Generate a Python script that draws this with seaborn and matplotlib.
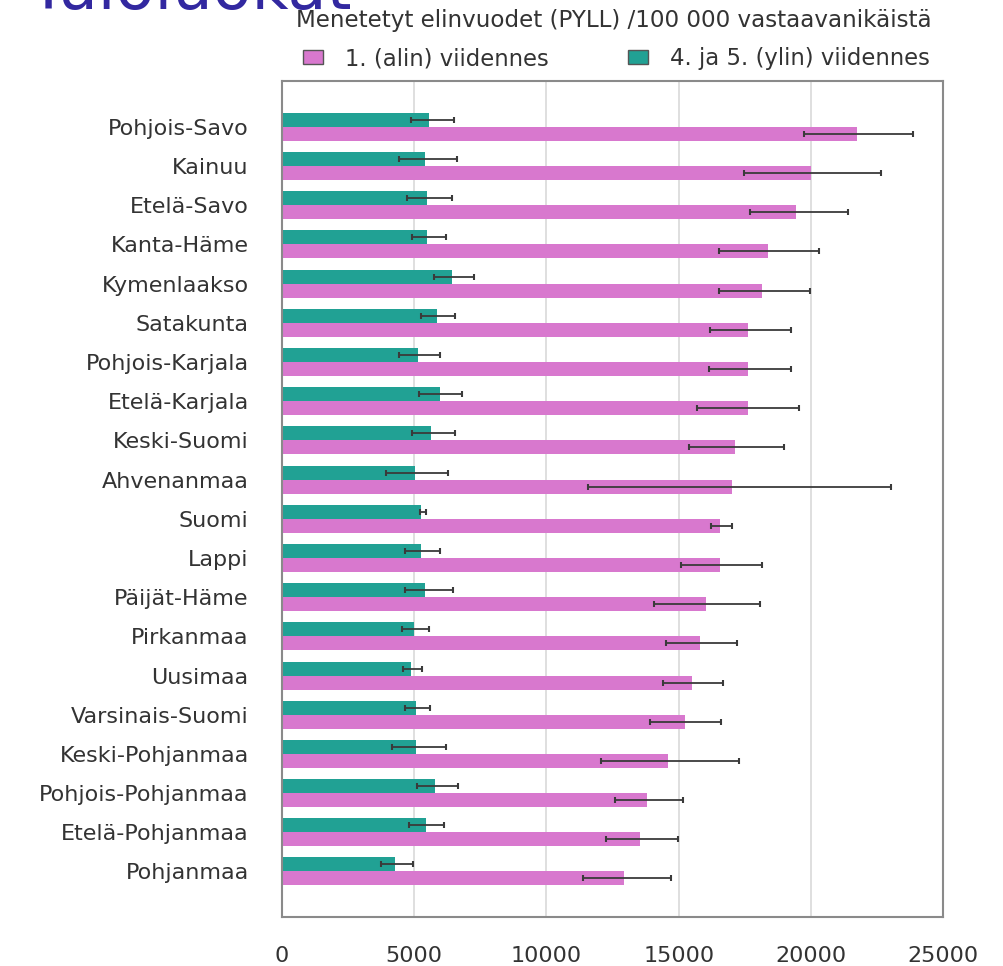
import numpy as np
import pandas as pd
import matplotlib
matplotlib.use("Agg")
import matplotlib.pyplot as plt
import seaborn as sns
from matplotlib.patches import Patch

# ---------------- data ----------------
regions = ["Pohjois-Savo", "Kainuu", "Etelä-Savo", "Kanta-Häme", "Kymenlaakso",
           "Satakunta", "Pohjois-Karjala", "Etelä-Karjala", "Keski-Suomi", "Ahvenanmaa",
           "Suomi", "Lappi", "Päijät-Häme", "Pirkanmaa", "Uusimaa",
           "Varsinais-Suomi", "Keski-Pohjanmaa", "Pohjois-Pohjanmaa", "Etelä-Pohjanmaa", "Pohjanmaa"]

lab_low = "1. (alin) viidennes"
lab_high = "4. ja 5. (ylin) viidennes"

low_val = [21760, 20000, 19430, 18390, 18140, 17630, 17630, 17630, 17150, 17000,
           16580, 16580, 16020, 15810, 15510, 15240, 14580, 13820, 13550, 12930]
low_lo = [19750, 17490, 17710, 16530, 16530, 16190, 16150, 15710, 15390, 11560,
          16240, 15090, 14070, 14540, 14410, 13910, 12050, 12600, 12240, 11390]
low_hi = [23850, 22650, 21400, 20300, 19970, 19240, 19240, 19540, 18980, 23020,
          17000, 18140, 18090, 17200, 16660, 16590, 17280, 15150, 14970, 14710]

high_val = [5540, 5420, 5480, 5480, 6410, 5850, 5140, 5980, 5630, 5030,
            5250, 5250, 5420, 5000, 4870, 5050, 5060, 5780, 5430, 4290]
high_lo = [4880, 4440, 4710, 4920, 5760, 5250, 4440, 5170, 4920, 3930,
           5220, 4660, 4660, 4530, 4580, 4650, 4170, 5110, 4790, 3730]
high_hi = [6490, 6610, 6410, 6190, 7250, 6560, 5980, 6810, 6560, 6270,
           5460, 5980, 6470, 5560, 5290, 5590, 6210, 6640, 6140, 4970]

x_ticks = [0, 5000, 10000, 15000, 20000, 25000]

title_text = "Tuloluokat"
subtitle_text = "Menetetyt elinvuodet (PYLL) /100 000 vastaavanikäistä"

pink = "#D878CE"
teal = "#21A194"
text_col = "#333333"
spine_col = "#8a8a8a"

# ---------------- plot ----------------
sns.set_style("white")
plt.rcParams["font.family"] = ["DejaVu Sans"]

fig = plt.figure(figsize=(10.04, 9.66), dpi=100)
ax = fig.add_axes([0.2809, 0.0504, 0.6584, 0.8657])

df = pd.DataFrame({
    "Alue": regions * 2,
    "Ryhmä": [lab_high] * len(regions) + [lab_low] * len(regions),
    "PYLL": high_val + low_val,
})

sns.barplot(data=df, x="PYLL", y="Alue", hue="Ryhmä", order=regions,
            hue_order=[lab_high, lab_low], palette=[teal, pink], orient="h",
            width=0.714, errorbar=None, saturation=1, legend=False, ax=ax,
            zorder=2, linewidth=0)

for cont, vals, lo, hi in zip(ax.containers, [high_val, low_val],
                              [high_lo, low_lo], [high_hi, low_hi]):
    bars = sorted(cont, key=lambda b: b.get_y())
    ys = [b.get_y() + b.get_height() / 2 for b in bars]
    v = np.array(vals)
    err = [v - np.array(lo), np.array(hi) - v]
    ax.errorbar(v, ys, xerr=err, fmt="none", ecolor="#3a3a3a",
                elinewidth=1.3, capsize=2, capthick=1.5, zorder=3)

ax.set_xlim(0, 25000)
ax.set_ylim(20.17, -1.17)
ax.set_xticks(x_ticks)
ax.set_xticklabels([str(t) for t in x_ticks])
ax.set_xlabel("")
ax.set_ylabel("")

ax.set_axisbelow(True)
ax.xaxis.grid(True, color="#d9d9d9", lw=1.2)
ax.yaxis.grid(False)

ax.tick_params(axis="x", direction="out", length=10, width=1.5, color=spine_col,
               pad=11, labelsize=16, labelcolor=text_col)
ax.tick_params(axis="y", length=0, pad=24, labelsize=16, labelcolor=text_col)
for s in ax.spines.values():
    s.set_visible(True)
    s.set_color(spine_col)
    s.set_linewidth(1.5)

# legend
handles = [Patch(facecolor=pink, edgecolor="#555555", linewidth=1),
           Patch(facecolor=teal, edgecolor="#555555", linewidth=1)]
fig.legend(handles=handles, labels=[lab_low, lab_high], ncol=2, loc="center",
           bbox_to_anchor=(0.614, 0.939), frameon=False, fontsize=16.4,
           labelcolor=text_col, handlelength=0.88, handleheight=0.57,
           handletextpad=0.96, columnspacing=3.5, borderpad=0, borderaxespad=0)

# subtitle and (cropped) title
fig.text(0.611, 0.979, subtitle_text, ha="center", va="center",
         fontsize=16.6, color=text_col)
fig.text(0.028, 1 - 9.5 / 966, title_text, ha="left", va="baseline",
         fontsize=46, color="#3228A0")

fig.savefig("out.png", dpi=100)
